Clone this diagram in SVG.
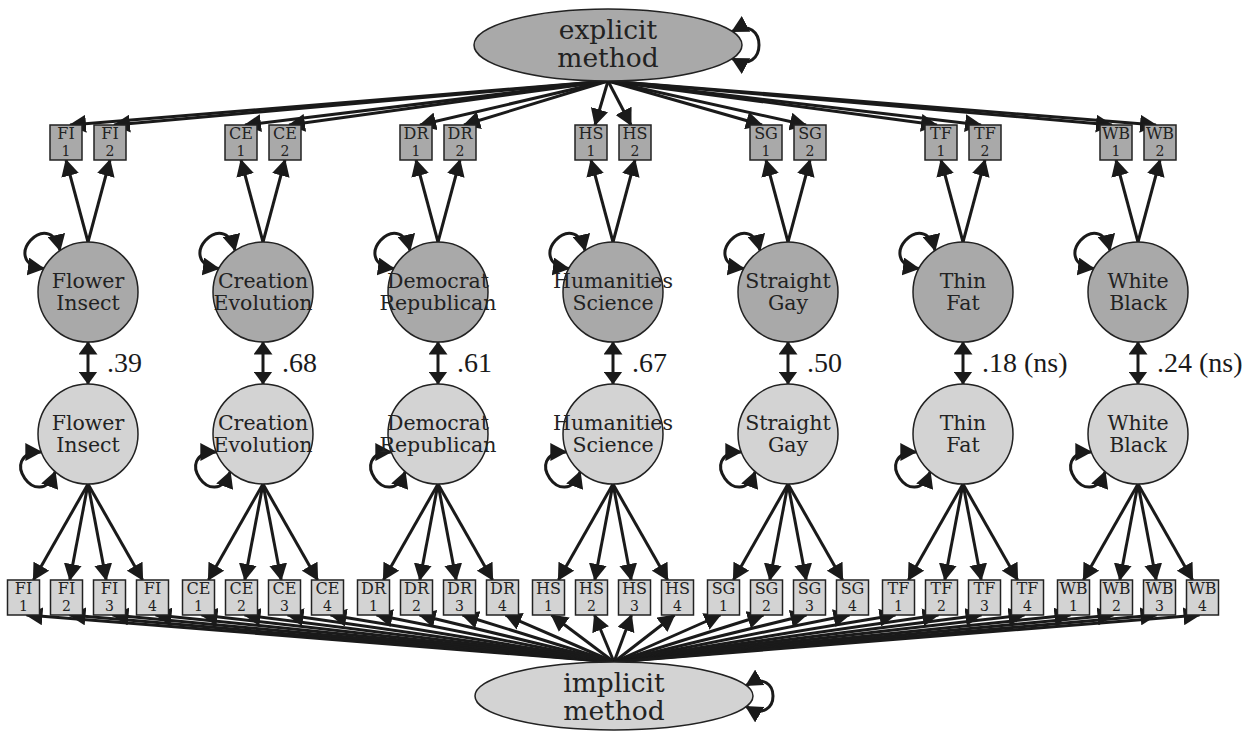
<svg xmlns="http://www.w3.org/2000/svg" width="1260" height="731" viewBox="0 0 1260 731">
<defs>
<style>
.c line,.c path{stroke:#1a1a1a;stroke-width:3;fill:none;marker-end:url(#ah)}
.c .dbl{marker-start:url(#ah)}
.c line.cor{marker-start:url(#ahc);marker-end:url(#ahc)}
.dk{fill:#a9a9a9;stroke:#222;stroke-width:1.5}
.lt{fill:#d3d3d3;stroke:#222;stroke-width:1.5}
.nt{font-family:"DejaVu Serif",serif;fill:#222;text-anchor:middle}
.el{font-size:26.5px}
.ci{font-size:20.5px}
.bx{font-size:16px}
.bn{font-size:14px}
.cr{font-family:"Liberation Serif",serif;font-size:28px;fill:#1a1a1a}
</style>
<marker id="ah" viewBox="0 0 17 18" refX="16" refY="9" markerWidth="17" markerHeight="18" markerUnits="userSpaceOnUse" orient="auto-start-reverse"><path d="M0,0 L17,9 L0,18 Z" fill="#1a1a1a"/></marker>
<marker id="ahc" viewBox="0 0 13 19" refX="12.5" refY="9.5" markerWidth="13" markerHeight="19" markerUnits="userSpaceOnUse" orient="auto-start-reverse"><path d="M0,0 L13,9.5 L0,19 Z" fill="#1a1a1a"/></marker>
</defs>
<rect width="1260" height="731" fill="#fff"/>
<g id="connectors" class="c">
<line x1="608" y1="81" x2="70" y2="125"/><line x1="608" y1="81" x2="114" y2="125"/>
<line x1="608" y1="81" x2="245" y2="125"/><line x1="608" y1="81" x2="289" y2="125"/>
<line x1="608" y1="81" x2="420" y2="125"/><line x1="608" y1="81" x2="464" y2="125"/>
<line x1="608" y1="81" x2="595" y2="125"/><line x1="608" y1="81" x2="631" y2="125"/>
<line x1="608" y1="81" x2="762" y2="125"/><line x1="608" y1="81" x2="806" y2="125"/>
<line x1="608" y1="81" x2="937" y2="125"/><line x1="608" y1="81" x2="981" y2="125"/>
<line x1="608" y1="81" x2="1112" y2="125"/><line x1="608" y1="81" x2="1156" y2="125"/>
<line x1="88" y1="242" x2="66" y2="160"/><line x1="88" y1="242" x2="110" y2="160"/>
<line x1="263" y1="242" x2="241" y2="160"/><line x1="263" y1="242" x2="285" y2="160"/>
<line x1="438" y1="242" x2="416" y2="160"/><line x1="438" y1="242" x2="460" y2="160"/>
<line x1="613" y1="242" x2="591" y2="160"/><line x1="613" y1="242" x2="635" y2="160"/>
<line x1="788" y1="242" x2="766" y2="160"/><line x1="788" y1="242" x2="810" y2="160"/>
<line x1="963" y1="242" x2="941" y2="160"/><line x1="963" y1="242" x2="985" y2="160"/>
<line x1="1138" y1="242" x2="1116" y2="160"/><line x1="1138" y1="242" x2="1160" y2="160"/>
<line class="cor" x1="88" y1="342" x2="88" y2="384"/>
<line class="cor" x1="263" y1="342" x2="263" y2="384"/>
<line class="cor" x1="438" y1="342" x2="438" y2="384"/>
<line class="cor" x1="613" y1="342" x2="613" y2="384"/>
<line class="cor" x1="788" y1="342" x2="788" y2="384"/>
<line class="cor" x1="963" y1="342" x2="963" y2="384"/>
<line class="cor" x1="1138" y1="342" x2="1138" y2="384"/>
<line x1="88" y1="484" x2="33.4" y2="580"/><line x1="88" y1="484" x2="69.8" y2="580"/><line x1="88" y1="484" x2="106.2" y2="580"/><line x1="88" y1="484" x2="142.6" y2="580"/>
<line x1="263" y1="484" x2="208.4" y2="580"/><line x1="263" y1="484" x2="244.8" y2="580"/><line x1="263" y1="484" x2="281.2" y2="580"/><line x1="263" y1="484" x2="317.6" y2="580"/>
<line x1="438" y1="484" x2="383.4" y2="580"/><line x1="438" y1="484" x2="419.8" y2="580"/><line x1="438" y1="484" x2="456.2" y2="580"/><line x1="438" y1="484" x2="492.6" y2="580"/>
<line x1="613" y1="484" x2="558.4" y2="580"/><line x1="613" y1="484" x2="594.8" y2="580"/><line x1="613" y1="484" x2="631.2" y2="580"/><line x1="613" y1="484" x2="667.6" y2="580"/>
<line x1="788" y1="484" x2="733.4" y2="580"/><line x1="788" y1="484" x2="769.8" y2="580"/><line x1="788" y1="484" x2="806.2" y2="580"/><line x1="788" y1="484" x2="842.6" y2="580"/>
<line x1="963" y1="484" x2="908.4" y2="580"/><line x1="963" y1="484" x2="944.8" y2="580"/><line x1="963" y1="484" x2="981.2" y2="580"/><line x1="963" y1="484" x2="1017.6" y2="580"/>
<line x1="1138" y1="484" x2="1083.4" y2="580"/><line x1="1138" y1="484" x2="1119.8" y2="580"/><line x1="1138" y1="484" x2="1156.2" y2="580"/><line x1="1138" y1="484" x2="1192.6" y2="580"/>
<line x1="614" y1="662" x2="26.5" y2="615"/><line x1="614" y1="662" x2="69.5" y2="615"/><line x1="614" y1="662" x2="112.5" y2="615"/><line x1="614" y1="662" x2="155.5" y2="615"/>
<line x1="614" y1="662" x2="201.5" y2="615"/><line x1="614" y1="662" x2="244.5" y2="615"/><line x1="614" y1="662" x2="287.5" y2="615"/><line x1="614" y1="662" x2="330.5" y2="615"/>
<line x1="614" y1="662" x2="376.5" y2="615"/><line x1="614" y1="662" x2="419.5" y2="615"/><line x1="614" y1="662" x2="462.5" y2="615"/><line x1="614" y1="662" x2="505.5" y2="615"/>
<line x1="614" y1="662" x2="551.5" y2="615"/><line x1="614" y1="662" x2="594.5" y2="615"/><line x1="614" y1="662" x2="631.5" y2="615"/><line x1="614" y1="662" x2="674.5" y2="615"/>
<line x1="614" y1="662" x2="720.5" y2="615"/><line x1="614" y1="662" x2="763.5" y2="615"/><line x1="614" y1="662" x2="806.5" y2="615"/><line x1="614" y1="662" x2="849.5" y2="615"/>
<line x1="614" y1="662" x2="895.5" y2="615"/><line x1="614" y1="662" x2="938.5" y2="615"/><line x1="614" y1="662" x2="981.5" y2="615"/><line x1="614" y1="662" x2="1024.5" y2="615"/>
<line x1="614" y1="662" x2="1070.5" y2="615"/><line x1="614" y1="662" x2="1113.5" y2="615"/><line x1="614" y1="662" x2="1156.5" y2="615"/><line x1="614" y1="662" x2="1199.5" y2="615"/>
<path class="dbl" d="M732,31.5 C768,12 768,78 732,58.5"/>
<path class="dbl" d="M746,685.5 C782,664 782,728 746,706.5"/>
<path class="dbl" d="M48.5,-12.1 C86.8,-38.6 86.8,38.6 48.5,12.1" transform="translate(88,292) rotate(222)"/>
<path class="dbl" d="M48.5,-12.1 C86.8,-38.6 86.8,38.6 48.5,12.1" transform="translate(263,292) rotate(222)"/>
<path class="dbl" d="M48.5,-12.1 C86.8,-38.6 86.8,38.6 48.5,12.1" transform="translate(438,292) rotate(222)"/>
<path class="dbl" d="M48.5,-12.1 C86.8,-38.6 86.8,38.6 48.5,12.1" transform="translate(613,292) rotate(222)"/>
<path class="dbl" d="M48.5,-12.1 C86.8,-38.6 86.8,38.6 48.5,12.1" transform="translate(788,292) rotate(222)"/>
<path class="dbl" d="M48.5,-12.1 C86.8,-38.6 86.8,38.6 48.5,12.1" transform="translate(963,292) rotate(222)"/>
<path class="dbl" d="M48.5,-12.1 C86.8,-38.6 86.8,38.6 48.5,12.1" transform="translate(1138,292) rotate(222)"/>
<path class="dbl" d="M48.5,-12.1 C86.8,-38.6 86.8,38.6 48.5,12.1" transform="translate(88,434) rotate(145)"/>
<path class="dbl" d="M48.5,-12.1 C86.8,-38.6 86.8,38.6 48.5,12.1" transform="translate(263,434) rotate(145)"/>
<path class="dbl" d="M48.5,-12.1 C86.8,-38.6 86.8,38.6 48.5,12.1" transform="translate(438,434) rotate(145)"/>
<path class="dbl" d="M48.5,-12.1 C86.8,-38.6 86.8,38.6 48.5,12.1" transform="translate(613,434) rotate(145)"/>
<path class="dbl" d="M48.5,-12.1 C86.8,-38.6 86.8,38.6 48.5,12.1" transform="translate(788,434) rotate(145)"/>
<path class="dbl" d="M48.5,-12.1 C86.8,-38.6 86.8,38.6 48.5,12.1" transform="translate(963,434) rotate(145)"/>
<path class="dbl" d="M48.5,-12.1 C86.8,-38.6 86.8,38.6 48.5,12.1" transform="translate(1138,434) rotate(145)"/>
</g>
<g id="explicit"><ellipse class="dk" cx="608" cy="45" rx="134" ry="36"/><text class="nt el" x="608" y="39">explicit</text><text class="nt el" x="608" y="67">method</text></g>
<g id="implicit"><ellipse class="lt" cx="614" cy="696" rx="139" ry="34"/><text class="nt el" x="614" y="692">implicit</text><text class="nt el" x="614" y="720">method</text></g>
<g id="FI1e"><rect class="dk" x="50" y="125" width="32" height="35"/><text class="nt bx" x="66" y="139">FI</text><text class="nt bn" x="66" y="156">1</text></g>
<g id="FI2e"><rect class="dk" x="94" y="125" width="32" height="35"/><text class="nt bx" x="110" y="139">FI</text><text class="nt bn" x="110" y="156">2</text></g>
<g id="CE1e"><rect class="dk" x="225" y="125" width="32" height="35"/><text class="nt bx" x="241" y="139">CE</text><text class="nt bn" x="241" y="156">1</text></g>
<g id="CE2e"><rect class="dk" x="269" y="125" width="32" height="35"/><text class="nt bx" x="285" y="139">CE</text><text class="nt bn" x="285" y="156">2</text></g>
<g id="DR1e"><rect class="dk" x="400" y="125" width="32" height="35"/><text class="nt bx" x="416" y="139">DR</text><text class="nt bn" x="416" y="156">1</text></g>
<g id="DR2e"><rect class="dk" x="444" y="125" width="32" height="35"/><text class="nt bx" x="460" y="139">DR</text><text class="nt bn" x="460" y="156">2</text></g>
<g id="HS1e"><rect class="dk" x="575" y="125" width="32" height="35"/><text class="nt bx" x="591" y="139">HS</text><text class="nt bn" x="591" y="156">1</text></g>
<g id="HS2e"><rect class="dk" x="619" y="125" width="32" height="35"/><text class="nt bx" x="635" y="139">HS</text><text class="nt bn" x="635" y="156">2</text></g>
<g id="SG1e"><rect class="dk" x="750" y="125" width="32" height="35"/><text class="nt bx" x="766" y="139">SG</text><text class="nt bn" x="766" y="156">1</text></g>
<g id="SG2e"><rect class="dk" x="794" y="125" width="32" height="35"/><text class="nt bx" x="810" y="139">SG</text><text class="nt bn" x="810" y="156">2</text></g>
<g id="TF1e"><rect class="dk" x="925" y="125" width="32" height="35"/><text class="nt bx" x="941" y="139">TF</text><text class="nt bn" x="941" y="156">1</text></g>
<g id="TF2e"><rect class="dk" x="969" y="125" width="32" height="35"/><text class="nt bx" x="985" y="139">TF</text><text class="nt bn" x="985" y="156">2</text></g>
<g id="WB1e"><rect class="dk" x="1100" y="125" width="32" height="35"/><text class="nt bx" x="1116" y="139">WB</text><text class="nt bn" x="1116" y="156">1</text></g>
<g id="WB2e"><rect class="dk" x="1144" y="125" width="32" height="35"/><text class="nt bx" x="1160" y="139">WB</text><text class="nt bn" x="1160" y="156">2</text></g>
<g id="FIe"><circle class="dk" cx="88" cy="292" r="50"/><text class="nt ci" x="88" y="288">Flower</text><text class="nt ci" x="88" y="310">Insect</text></g>
<g id="CEe"><circle class="dk" cx="263" cy="292" r="50"/><text class="nt ci" x="263" y="288">Creation</text><text class="nt ci" x="263" y="310">Evolution</text></g>
<g id="DRe"><circle class="dk" cx="438" cy="292" r="50"/><text class="nt ci" x="438" y="288">Democrat</text><text class="nt ci" x="438" y="310">Republican</text></g>
<g id="HSe"><circle class="dk" cx="613" cy="292" r="50"/><text class="nt ci" x="613" y="288">Humanities</text><text class="nt ci" x="613" y="310">Science</text></g>
<g id="SGe"><circle class="dk" cx="788" cy="292" r="50"/><text class="nt ci" x="788" y="288">Straight</text><text class="nt ci" x="788" y="310">Gay</text></g>
<g id="TFe"><circle class="dk" cx="963" cy="292" r="50"/><text class="nt ci" x="963" y="288">Thin</text><text class="nt ci" x="963" y="310">Fat</text></g>
<g id="WBe"><circle class="dk" cx="1138" cy="292" r="50"/><text class="nt ci" x="1138" y="288">White</text><text class="nt ci" x="1138" y="310">Black</text></g>
<g id="corr-labels">
<text class="cr" x="107" y="372">.39</text>
<text class="cr" x="282" y="372">.68</text>
<text class="cr" x="457" y="372">.61</text>
<text class="cr" x="632" y="372">.67</text>
<text class="cr" x="807" y="372">.50</text>
<text class="cr" x="982" y="372">.18 (ns)</text>
<text class="cr" x="1157" y="372">.24 (ns)</text>
</g>
<g id="FIi"><circle class="lt" cx="88" cy="434" r="50"/><text class="nt ci" x="88" y="430">Flower</text><text class="nt ci" x="88" y="452">Insect</text></g>
<g id="CEi"><circle class="lt" cx="263" cy="434" r="50"/><text class="nt ci" x="263" y="430">Creation</text><text class="nt ci" x="263" y="452">Evolution</text></g>
<g id="DRi"><circle class="lt" cx="438" cy="434" r="50"/><text class="nt ci" x="438" y="430">Democrat</text><text class="nt ci" x="438" y="452">Republican</text></g>
<g id="HSi"><circle class="lt" cx="613" cy="434" r="50"/><text class="nt ci" x="613" y="430">Humanities</text><text class="nt ci" x="613" y="452">Science</text></g>
<g id="SGi"><circle class="lt" cx="788" cy="434" r="50"/><text class="nt ci" x="788" y="430">Straight</text><text class="nt ci" x="788" y="452">Gay</text></g>
<g id="TFi"><circle class="lt" cx="963" cy="434" r="50"/><text class="nt ci" x="963" y="430">Thin</text><text class="nt ci" x="963" y="452">Fat</text></g>
<g id="WBi"><circle class="lt" cx="1138" cy="434" r="50"/><text class="nt ci" x="1138" y="430">White</text><text class="nt ci" x="1138" y="452">Black</text></g>
<g id="FI1i"><rect class="lt" x="7.5" y="580" width="32" height="35"/><text class="nt bx" x="23.5" y="594">FI</text><text class="nt bn" x="23.5" y="611">1</text></g>
<g id="FI2i"><rect class="lt" x="50.5" y="580" width="32" height="35"/><text class="nt bx" x="66.5" y="594">FI</text><text class="nt bn" x="66.5" y="611">2</text></g>
<g id="FI3i"><rect class="lt" x="93.5" y="580" width="32" height="35"/><text class="nt bx" x="109.5" y="594">FI</text><text class="nt bn" x="109.5" y="611">3</text></g>
<g id="FI4i"><rect class="lt" x="136.5" y="580" width="32" height="35"/><text class="nt bx" x="152.5" y="594">FI</text><text class="nt bn" x="152.5" y="611">4</text></g>
<g id="CE1i"><rect class="lt" x="182.5" y="580" width="32" height="35"/><text class="nt bx" x="198.5" y="594">CE</text><text class="nt bn" x="198.5" y="611">1</text></g>
<g id="CE2i"><rect class="lt" x="225.5" y="580" width="32" height="35"/><text class="nt bx" x="241.5" y="594">CE</text><text class="nt bn" x="241.5" y="611">2</text></g>
<g id="CE3i"><rect class="lt" x="268.5" y="580" width="32" height="35"/><text class="nt bx" x="284.5" y="594">CE</text><text class="nt bn" x="284.5" y="611">3</text></g>
<g id="CE4i"><rect class="lt" x="311.5" y="580" width="32" height="35"/><text class="nt bx" x="327.5" y="594">CE</text><text class="nt bn" x="327.5" y="611">4</text></g>
<g id="DR1i"><rect class="lt" x="357.5" y="580" width="32" height="35"/><text class="nt bx" x="373.5" y="594">DR</text><text class="nt bn" x="373.5" y="611">1</text></g>
<g id="DR2i"><rect class="lt" x="400.5" y="580" width="32" height="35"/><text class="nt bx" x="416.5" y="594">DR</text><text class="nt bn" x="416.5" y="611">2</text></g>
<g id="DR3i"><rect class="lt" x="443.5" y="580" width="32" height="35"/><text class="nt bx" x="459.5" y="594">DR</text><text class="nt bn" x="459.5" y="611">3</text></g>
<g id="DR4i"><rect class="lt" x="486.5" y="580" width="32" height="35"/><text class="nt bx" x="502.5" y="594">DR</text><text class="nt bn" x="502.5" y="611">4</text></g>
<g id="HS1i"><rect class="lt" x="532.5" y="580" width="32" height="35"/><text class="nt bx" x="548.5" y="594">HS</text><text class="nt bn" x="548.5" y="611">1</text></g>
<g id="HS2i"><rect class="lt" x="575.5" y="580" width="32" height="35"/><text class="nt bx" x="591.5" y="594">HS</text><text class="nt bn" x="591.5" y="611">2</text></g>
<g id="HS3i"><rect class="lt" x="618.5" y="580" width="32" height="35"/><text class="nt bx" x="634.5" y="594">HS</text><text class="nt bn" x="634.5" y="611">3</text></g>
<g id="HS4i"><rect class="lt" x="661.5" y="580" width="32" height="35"/><text class="nt bx" x="677.5" y="594">HS</text><text class="nt bn" x="677.5" y="611">4</text></g>
<g id="SG1i"><rect class="lt" x="707.5" y="580" width="32" height="35"/><text class="nt bx" x="723.5" y="594">SG</text><text class="nt bn" x="723.5" y="611">1</text></g>
<g id="SG2i"><rect class="lt" x="750.5" y="580" width="32" height="35"/><text class="nt bx" x="766.5" y="594">SG</text><text class="nt bn" x="766.5" y="611">2</text></g>
<g id="SG3i"><rect class="lt" x="793.5" y="580" width="32" height="35"/><text class="nt bx" x="809.5" y="594">SG</text><text class="nt bn" x="809.5" y="611">3</text></g>
<g id="SG4i"><rect class="lt" x="836.5" y="580" width="32" height="35"/><text class="nt bx" x="852.5" y="594">SG</text><text class="nt bn" x="852.5" y="611">4</text></g>
<g id="TF1i"><rect class="lt" x="882.5" y="580" width="32" height="35"/><text class="nt bx" x="898.5" y="594">TF</text><text class="nt bn" x="898.5" y="611">1</text></g>
<g id="TF2i"><rect class="lt" x="925.5" y="580" width="32" height="35"/><text class="nt bx" x="941.5" y="594">TF</text><text class="nt bn" x="941.5" y="611">2</text></g>
<g id="TF3i"><rect class="lt" x="968.5" y="580" width="32" height="35"/><text class="nt bx" x="984.5" y="594">TF</text><text class="nt bn" x="984.5" y="611">3</text></g>
<g id="TF4i"><rect class="lt" x="1011.5" y="580" width="32" height="35"/><text class="nt bx" x="1027.5" y="594">TF</text><text class="nt bn" x="1027.5" y="611">4</text></g>
<g id="WB1i"><rect class="lt" x="1057.5" y="580" width="32" height="35"/><text class="nt bx" x="1073.5" y="594">WB</text><text class="nt bn" x="1073.5" y="611">1</text></g>
<g id="WB2i"><rect class="lt" x="1100.5" y="580" width="32" height="35"/><text class="nt bx" x="1116.5" y="594">WB</text><text class="nt bn" x="1116.5" y="611">2</text></g>
<g id="WB3i"><rect class="lt" x="1143.5" y="580" width="32" height="35"/><text class="nt bx" x="1159.5" y="594">WB</text><text class="nt bn" x="1159.5" y="611">3</text></g>
<g id="WB4i"><rect class="lt" x="1186.5" y="580" width="32" height="35"/><text class="nt bx" x="1202.5" y="594">WB</text><text class="nt bn" x="1202.5" y="611">4</text></g>
</svg>
